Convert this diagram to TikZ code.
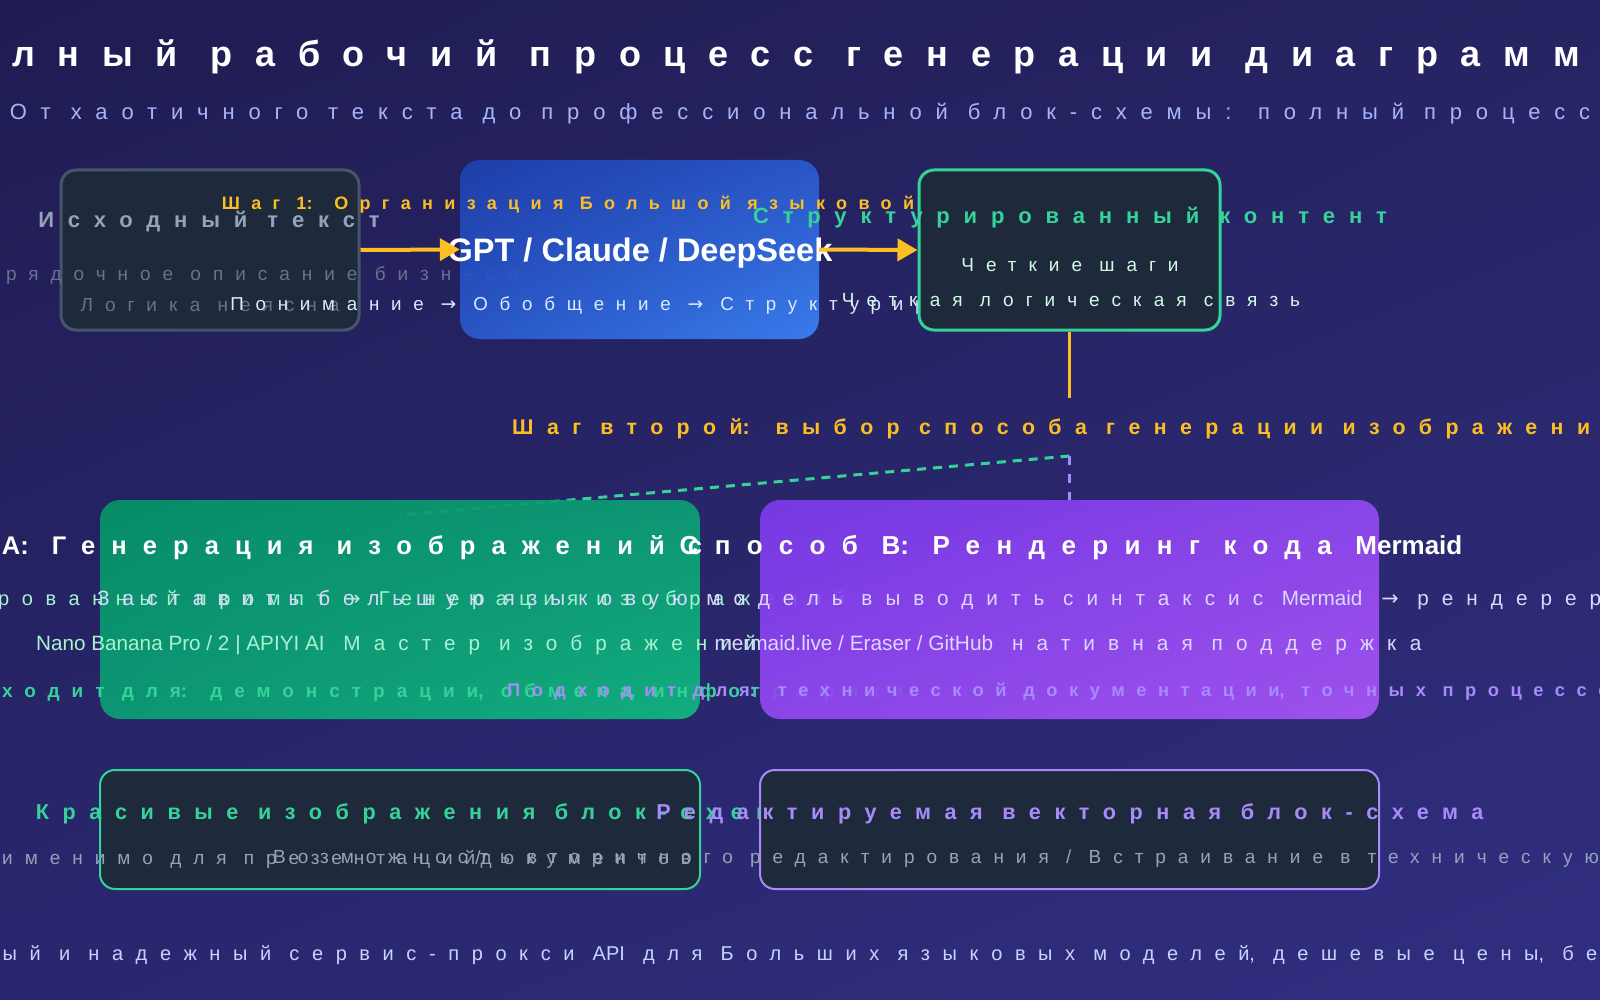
\documentclass[tikz,border=0pt]{standalone}
\usepackage{fontspec}
\setmainfont{Liberation Sans}
\newfontfamily\spfont[LetterSpace=63]{Liberation Sans}
\newfontfamily\latfont{Liberation Sans}
\newfontfamily\arrfont[LetterSpace=63]{DejaVu Sans}
\newcommand\lat[1]{{\latfont #1}}
\newcommand\ar{{\arrfont →}}
\newcommand\fsz[1]{\fontsize{#1}{#1}\selectfont}
\usetikzlibrary{arrows.meta,shadings}

\definecolor{bgA}{HTML}{1F1C52}
\definecolor{bgB}{HTML}{262462}
\definecolor{bgC}{HTML}{2A276F}
\definecolor{bgD}{HTML}{312E81}
\definecolor{blueA}{HTML}{1E40AF}
\definecolor{blueB}{HTML}{2A5ACD}
\definecolor{blueC}{HTML}{3B82F6}
\definecolor{greenA}{HTML}{059669}
\definecolor{greenB}{HTML}{0B9F75}
\definecolor{greenC}{HTML}{10B981}
\definecolor{purpA}{HTML}{7C3AED}
\definecolor{purpB}{HTML}{9248F2}
\definecolor{purpC}{HTML}{A855F7}
\definecolor{slatebox}{HTML}{1E293B}
\definecolor{slateline}{HTML}{475569}
\definecolor{graytxt}{HTML}{94A3B8}
\definecolor{graydim}{HTML}{64748B}
\definecolor{amber}{HTML}{FBBF24}
\definecolor{emerald}{HTML}{34D399}
\definecolor{mint}{HTML}{D1FAE5}
\definecolor{mintB}{HTML}{A7F3D0}
\definecolor{violetL}{HTML}{A78BFA}
\definecolor{lavender}{HTML}{DDD6FE}
\definecolor{indigoL}{HTML}{A5B4FC}
\definecolor{blueL}{HTML}{DBEAFE}
\definecolor{footc}{HTML}{C7D2FE}

\begin{document}
\begin{tikzpicture}[x=1pt,y=-1pt,
  card/.style={rounded corners=15pt, inner sep=0pt, fill=slatebox},
  lbl/.style={inner sep=0pt, yshift=-3pt, font=\spfont\fsz{#1}},
  lblb/.style={inner sep=0pt, yshift=-3pt, font=\spfont\bfseries\fsz{#1}},
  flow/.style={amber, line width=4pt, -{Triangle[length=20pt,width=22pt]}}]
\useasboundingbox (0,0) rectangle (1600,1000);
\clip (0,0) rectangle (1600,1000);
\shade[upper left=bgA, upper right=bgB, lower left=bgC, lower right=bgD] (0,0) rectangle (1600,1000);

\node[lblb=36, text=white] (title) at (796,54) {лный рабочий процесс генерации диаграмм};
\node[lbl=22, text=indigoL] (subtitle) at (800,111) {От хаотичного текста до профессиональной блок-схемы: полный процесс};

% branch lines
\coordinate (split) at (1069.5,456);
\coordinate (aIn) at (400,515);
\coordinate (bIn) at (1069.5,500);
\draw[emerald, line width=3pt, dash pattern=on 9pt off 7pt] (split) -- (aIn);
\draw[violetL, line width=3pt, dash pattern=on 9pt off 9pt] (split) -- (bIn);

% step 1
\node[card, draw=slateline, line width=3pt, minimum width=298pt, minimum height=160pt] (src) at (210,250) {};
\node[lblb=22, text=graytxt] (srcT) at (209,219) {Исходный текст};
\node[lbl=19, text=graydim] (srcA) at (262,273) {рядочное описание бизнеса};
\node[lbl=19, text=graydim] (srcB) at (210,302) {Логика неясна};

\node[rounded corners=20pt, inner sep=0pt, minimum width=359pt, minimum height=179pt, opacity=0.93,
  shade, upper left=blueA, upper right=blueB, lower left=blueB, lower right=blueC] (llm) at (639.5,249.5) {};
\node[lblb=18, text=amber] (llmT) at (568,202) {Шаг \lat{1:} Организация Большой языковой};
\node[inner sep=0pt, yshift=-3pt, font=\bfseries\fsz{32.5}, text=white] (llmM) at (640,250) {GPT / Claude / DeepSeek};
\node[lbl=18.7, text=blueL] (llmS) at (578,303) {Понимание \ar{} Обобщение \ar{} Структурир};

\node[card, draw=emerald, line width=3pt, minimum width=301pt, minimum height=160pt] (res) at (1069.5,250) {};
\node[lblb=22, text=emerald] (resT) at (1070,215) {Структурированный контент};
\node[lbl=19, text=mint] (resA) at (1070,262) {Четкие шаги};
\node[lbl=19, text=mint] (resB) at (1071,297) {Четкая логическая связь};

\draw[flow] (src.east) -- (llm.west);
\draw[flow] (llm.east) -- (res.west);
\coordinate (vEnd) at (1069.5,398);
\draw[amber, line width=3pt] (res.south) -- (vEnd);
\node[lblb=21.3, text=amber, anchor=west] (step2) at (512,426) {Шаг второй\lat{:} выбор способа генерации изображени};

% step 2
\node[rounded corners=20pt, inner sep=0pt, minimum width=600pt, minimum height=219pt, opacity=0.92,
  shade, upper left=greenA, upper right=greenB, lower left=greenB, lower right=greenC] (modA) at (400,609.5) {};
\node[lblb=25.5, text=white] (modAT) at (352,545) {\lat{A:} Генерация изображений с};
\node[lbl=20, text=mintB, anchor=west] (modAA) at (-2,597) {рованный промпт \ar{} Генерация изображений};
\node[lbl=20.7, text=mintB, anchor=west] (modAB) at (36,642) {\lat{Nano Banana Pro / 2 | APIYI AI} Мастер изображений};
\node[lblb=19, text=emerald, anchor=west] (modAC) at (2,689) {ходит для\lat{:} демонстрации\lat{,} обмена\lat{,} инфографики};

\node[rounded corners=20pt, inner sep=0pt, minimum width=619pt, minimum height=219pt, opacity=0.92,
  shade, upper left=purpA, upper right=purpB, lower left=purpB, lower right=purpC] (modB) at (1069.5,609.5) {};
\node[lblb=26, text=white] (modBT) at (1071,545) {Способ \lat{B:} Рендеринг кода \lat{Mermaid}};
\node[lbl=20.7, text=lavender, anchor=west] (modBA) at (97,597) {Заставить большую языковую модель выводить синтаксис \lat{Mermaid} \ar{} рендерер};
\node[lbl=20.8, text=lavender] (modBB) at (1068,642) {\lat{mermaid.live / Eraser / GitHub} нативная поддержка};
\node[lblb=18.3, text=violetL, anchor=west] (modBC) at (507,689) {Подходит для\lat{:} технической документации\lat{,} точных процессо};

% results
\node[card, draw=emerald, line width=2pt, minimum width=600pt, minimum height=119pt] (outA) at (400,829.5) {};
\node[lblb=21.6, text=emerald] (outAT) at (404,811) {Красивые изображения блок-схем};
\node[lbl=19, text=graytxt, anchor=west] (outAS) at (2,856) {именимо для презентаций\lat{/}документов};

\node[card, draw=violetL, line width=2pt, minimum width=619pt, minimum height=119pt] (outB) at (1069.5,829.5) {};
\node[lblb=21.6, text=violetL] (outBT) at (1070,811) {Редактируемая векторная блок-схема};
\node[lbl=19, text=graytxt, anchor=west] (outBS) at (273,856) {Возможность вторичного редактирования \lat{/} Встраивание в техническую};

\node[lbl=20, text=footc] (foot) at (800,952) {ый и надежный сервис-прокси \lat{API} для Больших языковых моделей\lat{,} дешевые цены\lat{,} бе};
\end{tikzpicture}
\end{document}
